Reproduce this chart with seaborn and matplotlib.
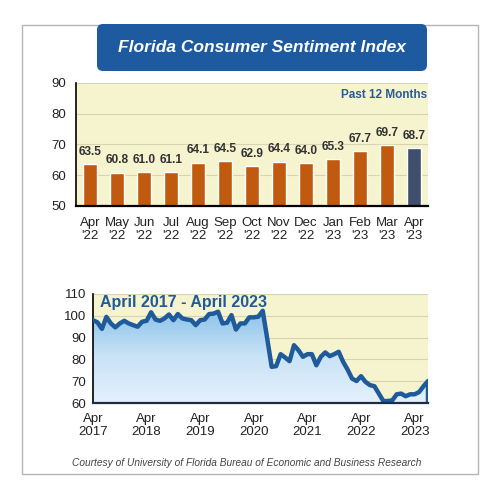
import numpy as np
import pandas as pd
import matplotlib
matplotlib.use("Agg")
import matplotlib.pyplot as plt
import seaborn as sns
from matplotlib.colors import LinearSegmentedColormap
from matplotlib.patches import FancyBboxPatch, Rectangle

# ── Data ────────────────────────────────────────────────────────────────
BAR_MONTHS = ["Apr", "May", "Jun", "Jul", "Aug", "Sep", "Oct",
              "Nov", "Dec", "Jan", "Feb", "Mar", "Apr"]
BAR_YEARS = ["'22"] * 9 + ["'23"] * 4
BAR_VALUES = [63.5, 60.8, 61.0, 61.1, 64.1, 64.5, 62.9,
              64.4, 64.0, 65.3, 67.7, 69.7, 68.7]

# monthly index, April 2017 - April 2023
LINE_VALUES = [
    98.0, 97.0, 94.0, 99.5, 96.5, 94.7, 96.5, 97.7, 96.5, 95.7,
    95.0, 97.3, 97.7, 101.6, 98.3, 97.7, 98.8, 100.6, 98.0, 100.8,
    98.8, 98.3, 98.0, 95.7, 98.0, 98.3, 100.8, 101.0, 101.9, 96.5,
    96.8, 100.3, 93.7, 96.5, 96.5, 99.3, 99.3, 99.6, 102.3, 89.6,
    76.6, 76.9, 82.4, 80.9, 79.2, 86.5, 84.2, 81.2, 82.4, 82.4,
    77.3, 81.2, 83.2, 81.5, 82.4, 83.5, 78.9, 75.3, 71.2, 70.1,
    72.3, 69.7, 68.2, 67.7, 64.3, 60.9, 60.9, 61.2, 64.0, 64.3,
    63.1, 64.0, 64.0, 65.0, 67.7, 70.1,
]
LINE_TICK_YEARS = ["2017", "2018", "2019", "2020", "2021", "2022", "2023"]

TITLE = "Florida Consumer Sentiment Index"
CREDIT = "Courtesy of University of Florida Bureau of Economic and Business Research"

# ── Style ───────────────────────────────────────────────────────────────
ORANGE = "#c05a0e"
SLATE = "#3f4e6b"
BLUE = "#1f5b9a"
PANEL = "#f6f3cf"
GRID = "#d8d4b2"
TICK_SIZE = 9.5

sns.set_theme(style="white")
plt.rcParams["font.family"] = ["Liberation Sans", "DejaVu Sans"]

fig = plt.figure(figsize=(5, 5), dpi=100)
fig.patch.set_facecolor("white")

# outer frame + title banner
fig.add_artist(Rectangle((0.044, 0.052), 0.912, 0.898, transform=fig.transFigure,
                         fill=False, edgecolor="#b5b5b5", linewidth=1.0))
fig.add_artist(FancyBboxPatch((0.2, 0.864), 0.648, 0.082, transform=fig.transFigure,
                              boxstyle="round,pad=0.006,rounding_size=0.012",
                              facecolor="#1e5aa0", edgecolor="none"))
fig.text(0.524, 0.905, TITLE, color="white", fontsize=12.5, fontweight="bold",
         style="italic", ha="center", va="center")

# ── Past 12 months bars ─────────────────────────────────────────────────
ax1 = fig.add_axes([0.152, 0.588, 0.704, 0.2466])
bars = pd.DataFrame({
    "label": [f"{m}\n{y}" for m, y in zip(BAR_MONTHS, BAR_YEARS)],
    "value": BAR_VALUES,
})
bars["key"] = range(len(bars))
palette = [ORANGE] * (len(bars) - 1) + [SLATE]
sns.barplot(data=bars, x="key", y="value", hue="key", palette=palette,
            legend=False, width=0.54, saturation=1, ax=ax1, zorder=3)
ax1.set_facecolor(PANEL)
ax1.set_ylim(50, 90)
ax1.set_xlim(-0.52, len(bars) - 0.48)
ax1.set_yticks([50, 60, 70, 80, 90])
ax1.set_xticks(range(len(bars)))
ax1.set_xticklabels(bars["label"], linespacing=1.15)
ax1.tick_params(axis="both", length=0, labelsize=TICK_SIZE, colors="#222222", pad=7)
ax1.tick_params(axis="x", pad=8)
ax1.set_xlabel("")
ax1.set_ylabel("")
ax1.grid(axis="y", color=GRID, linewidth=0.8, zorder=0)
for s in ["top", "right"]:
    ax1.spines[s].set_visible(False)
for s, lw in [("left", 1.2), ("bottom", 1.6)]:
    ax1.spines[s].set_color("black")
    ax1.spines[s].set_linewidth(lw)
    ax1.spines[s].set_zorder(5)
for patch, v in zip(ax1.patches, BAR_VALUES):
    ax1.annotate(f"{v:.1f}", (patch.get_x() + patch.get_width() / 2, v),
                 xytext=(0, 4.5), textcoords="offset points", ha="center", va="bottom",
                 fontsize=8.6, fontweight="bold", color="#333333", zorder=4)
ax1.text(0.997, 0.9, "Past 12 Months", transform=ax1.transAxes, ha="right", va="center",
         fontsize=8.5, fontweight="bold", color="#2a5c93")

# ── April 2017 - April 2023 line ────────────────────────────────────────
ax2 = fig.add_axes([0.186, 0.194, 0.67, 0.218])
months = np.arange(len(LINE_VALUES))
line = pd.DataFrame({"month": months, "index": LINE_VALUES})
ax2.set_facecolor(PANEL)

grad = LinearSegmentedColormap.from_list("fl", ["#e4f1fb", "#c8e2f6", "#86c0ea"])
img = ax2.imshow(np.linspace(0, 1, 256).reshape(-1, 1), cmap=grad, origin="lower",
                 aspect="auto", extent=[months[0], months[-1], 60, 104], zorder=1)
poly = ax2.fill_between(line["month"], line["index"], 60, color="none", zorder=1)
img.set_clip_path(poly.get_paths()[0], transform=ax2.transData)

sns.lineplot(data=line, x="month", y="index", color=BLUE, linewidth=3.2, ax=ax2, zorder=3)
ax2.plot([months[-1], months[-1]], [60, LINE_VALUES[-1]], color=BLUE, linewidth=3.2,
         solid_capstyle="butt", zorder=3)

ax2.set_xlim(months[0], months[-1])
ax2.set_ylim(60, 110)
ax2.set_yticks(range(60, 111, 10))
ax2.set_xticks(range(0, len(LINE_VALUES), 12))
ax2.set_xticklabels([f"Apr\n{y}" for y in LINE_TICK_YEARS], linespacing=1.15)
ax2.tick_params(axis="x", direction="in", length=3, width=1, colors="#222222",
                labelsize=TICK_SIZE, pad=7)
ax2.tick_params(axis="y", length=0, labelsize=TICK_SIZE, colors="#222222", pad=5)
ax2.set_xlabel("")
ax2.set_ylabel("")
ax2.grid(axis="y", color=GRID, linewidth=0.8, zorder=0)
ax2.set_axisbelow(True)
for s in ["top", "right"]:
    ax2.spines[s].set_visible(False)
ax2.spines["left"].set_color("black")
ax2.spines["left"].set_linewidth(1.2)
ax2.spines["bottom"].set_color("#1c2d4a")
ax2.spines["bottom"].set_linewidth(1.6)
ax2.spines["bottom"].set_zorder(5)
ax2.text(0.02, 0.92, "April 2017 - April 2023", transform=ax2.transAxes,
         ha="left", va="center", fontsize=11.5, fontweight="bold", color=BLUE, zorder=5)

fig.text(0.494, 0.074, CREDIT, ha="center", va="center", fontsize=7.3,
         style="italic", color="#444444")

fig.savefig("out.png", dpi=100)
